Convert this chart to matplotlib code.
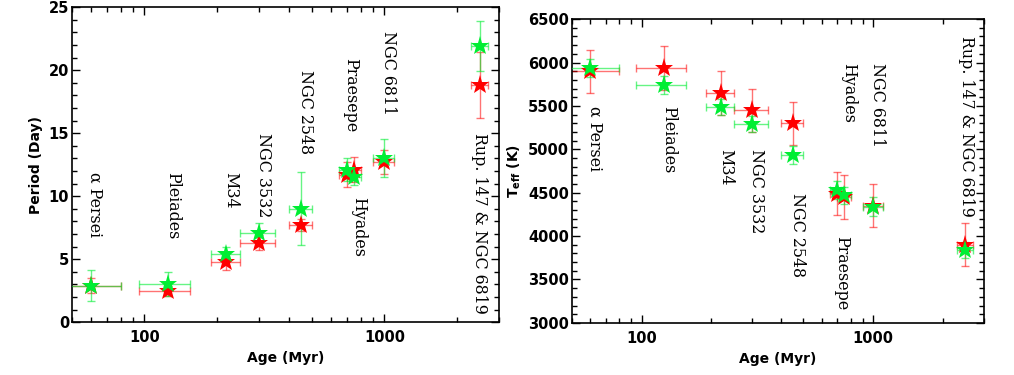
import numpy as np
import matplotlib.pyplot as plt
from matplotlib.ticker import MultipleLocator, NullFormatter

# cluster data
names = ["\u03b1 Persei", "Pleiades", "M34", "NGC 3532", "NGC 2548",
         "Praesepe", "Hyades", "NGC 6811", "Rup. 147 & NGC 6819"]
age = [60, 125, 220, 300, 450, 700, 750, 1000, 2500]
age_err = [20, 30, 30, 50, 50, 50, 50, 100, 200]

per_red = [2.9, 2.5, 4.8, 6.3, 7.7, 11.7, 12.1, 12.7, 18.8]
per_red_err = [0.6, 0.4, 0.65, 0.6, 0.5, 1.0, 1.0, 0.95, 2.6]
per_green = [2.9, 3.0, 5.4, 7.1, 9.0, 12.1, 11.5, 13.0, 21.9]
per_green_err = [1.2, 0.95, 0.55, 0.75, 2.9, 0.9, 0.6, 1.5, 2.0]

teff_red = [5900, 5940, 5650, 5450, 5300, 4490, 4450, 4350, 3900]
teff_red_err = [250, 255, 250, 250, 250, 250, 250, 250, 250]
teff_green = [5935, 5740, 5490, 5290, 4935, 4530, 4470, 4340, 3840]
teff_green_err = [105, 105, 90, 92, 105, 100, 100, 105, 90]

# label positions (x, top y) in data units
lab_x = [62, 131, 229, 315, 469, 725, 780, 1040, 2500]
lab_y1 = [11.9, 11.9, 11.9, 15.0, 20.0, 21.0, 9.95, 23.1, 15.0]
lab_x2 = [63, 131, 230, 315, 472, 731, 780, 1046, 2520]
lab_y2 = [5500, 5500, 5000, 5000, 4500, 4000, 6000, 6000, 6310]

RED = "#ff0000"
GREEN = "#00ee33"

fig = plt.figure(figsize=(10.14, 3.75), dpi=100)
ax1 = fig.add_axes([0.071, 0.141, 0.421, 0.840])
ax2 = fig.add_axes([0.564, 0.139, 0.406, 0.810])


def draw(ax, yr, yre, yg, yge):
    ax.errorbar(age, yr, yerr=yre, xerr=age_err, fmt="none", ecolor=RED,
                alpha=0.55, elinewidth=1, capsize=3, zorder=2)
    ax.errorbar(age, yg, yerr=yge, xerr=age_err, fmt="none", ecolor=GREEN,
                alpha=0.6, elinewidth=1, capsize=3, zorder=3)
    ax.plot(age, yr, "*", color=RED, markersize=14, markeredgewidth=0, zorder=4)
    ax.plot(age, yg, "*", color=GREEN, markersize=14, markeredgewidth=0, zorder=5)
    ax.set_xscale("log")
    ax.set_xlim(50, 3000)
    ax.set_xticks([100, 1000])
    ax.set_xticklabels(["100", "1000"])
    ax.xaxis.set_minor_formatter(NullFormatter())
    ax.tick_params(which="both", direction="in", top=True, right=True,
                   labelsize=10.5, width=1)
    ax.tick_params(which="major", length=6)
    ax.tick_params(which="minor", length=3.5)
    ax.tick_params(axis="y", pad=2)
    ax.tick_params(axis="x", pad=6)
    for lab in ax.get_xticklabels() + ax.get_yticklabels():
        lab.set_fontweight("bold")
    for s in ax.spines.values():
        s.set_linewidth(1.2)
    ax.set_xlabel("Age (Myr)", fontsize=10, fontweight="bold")


draw(ax1, per_red, per_red_err, per_green, per_green_err)
ax1.set_ylim(0, 25)
ax1.yaxis.set_major_locator(MultipleLocator(5))
ax1.yaxis.set_minor_locator(MultipleLocator(1))
ax1.set_ylabel("Period (Day)", fontsize=10, fontweight="bold")
for n, x, y in zip(names, lab_x, lab_y1):
    ax1.text(x, y, n, rotation=270, ha="center", va="top", fontsize=11.4,
             family="DejaVu Serif")

draw(ax2, teff_red, teff_red_err, teff_green, teff_green_err)
ax2.set_ylim(3000, 6500)
ax2.yaxis.set_major_locator(MultipleLocator(500))
ax2.yaxis.set_minor_locator(MultipleLocator(100))
ax2.set_ylabel(r"T$_{\mathregular{eff}}$ (K)", fontsize=10, fontweight="bold")
for n, x, y in zip(names, lab_x2, lab_y2):
    ax2.text(x, y, n, rotation=270, ha="center", va="top", fontsize=11.4,
             family="DejaVu Serif")

fig.savefig("out.png", dpi=100)
